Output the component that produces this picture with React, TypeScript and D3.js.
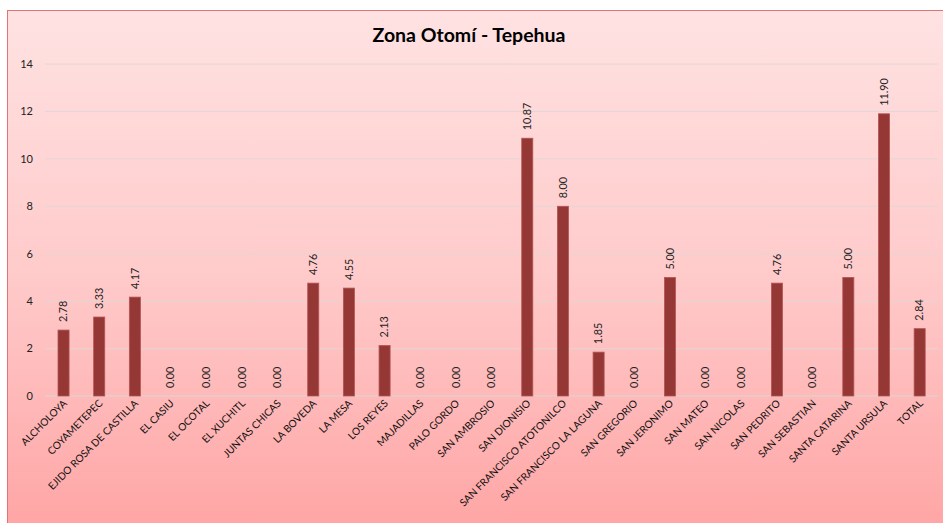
import React from "react";
import * as d3 from "d3";

const categories = [
  "ALCHOLOYA", "COYAMETEPEC", "EJIDO ROSA DE CASTILLA", "EL CASIU", "EL OCOTAL",
  "EL XUCHITL", "JUNTAS CHICAS", "LA BOVEDA", "LA MESA", "LOS REYES",
  "MAJADILLAS", "PALO GORDO", "SAN AMBROSIO", "SAN DIONISIO", "SAN FRANCISCO ATOTONILCO",
  "SAN FRANCISCO LA LAGUNA", "SAN GREGORIO", "SAN JERONIMO", "SAN MATEO", "SAN NICOLAS",
  "SAN PEDRITO", "SAN SEBASTIAN", "SANTA CATARINA", "SANTA URSULA", "TOTAL",
];
const values = [
  2.78, 3.33, 4.17, 0, 0,
  0, 0, 4.76, 4.55, 2.13,
  0, 0, 0, 10.87, 8.0,
  1.85, 0, 5.0, 0, 0,
  4.76, 0, 5.0, 11.9, 2.84,
];
const yTicks = [0, 2, 4, 6, 8, 10, 12, 14];
const title = "Zona Otomí - Tepehua";

const W = 943;
const H = 523;
const FONT = "Lato, 'Liberation Sans', sans-serif";

export default function App() {
  const x = d3.scaleBand<string>().domain(categories).range([45.7, 937.5]).paddingInner(0.69).paddingOuter(0.345);
  const y = d3.scaleLinear().domain([0, 14]).range([396, 64]);

  return (
    <svg width={W} height={H} style={{ position: "absolute", left: 0, top: 0 }}>
      <defs>
        <linearGradient id="bg" x1="0" y1="0" x2="0" y2="1">
          <stop offset="0%" stopColor="#ffe2e2" />
          <stop offset="50%" stopColor="#ffcaca" />
          <stop offset="100%" stopColor="#ffa3a3" />
        </linearGradient>
      </defs>
      <rect x={0} y={0} width={W} height={H} fill="#ffffff" />
      <rect x={7.5} y={10.5} width={W + 10} height={H + 10} fill="url(#bg)" stroke="#e07474" strokeWidth={1} />
      <text x={469} y={42} textAnchor="middle" fontFamily={FONT} fontWeight="bold" fontSize={19.5} fill="#000">
        {title}
      </text>
      {yTicks.map((t) => (
        <g key={t}>
          <line x1={45} x2={938} y1={y(t)} y2={y(t)} stroke={t === 0 ? "#d8d8d8" : "#e2d6d6"} strokeWidth={1} />
          <text x={33} y={y(t)} dy="0.35em" textAnchor="end" fontFamily={FONT} fontSize={11} fill="#222">
            {t}
          </text>
        </g>
      ))}
      {categories.map((c, i) => {
        const bx = x(c)!;
        const bw = x.bandwidth();
        const v = values[i];
        const cx = bx + bw / 2;
        return (
          <g key={c}>
            {v > 0 && (
              <rect x={bx} y={y(v)} width={bw} height={y(0) - y(v)} fill="#953735" stroke="#b25553" strokeWidth={0.8} />
            )}
            <text
              transform={`translate(${cx + 3.8},${y(v) - 8}) rotate(-90)`}
              textAnchor="start"
              fontFamily={FONT}
              fontSize={10.8}
              fill="#222"
            >
              {v.toFixed(2)}
            </text>
            <text
              transform={`translate(${cx + 4},${404}) rotate(-45)`}
              textAnchor="end"
              fontFamily={FONT}
              fontSize={10.2}
              fill="#111"
            >
              {c}
            </text>
          </g>
        );
      })}
    </svg>
  );
}
